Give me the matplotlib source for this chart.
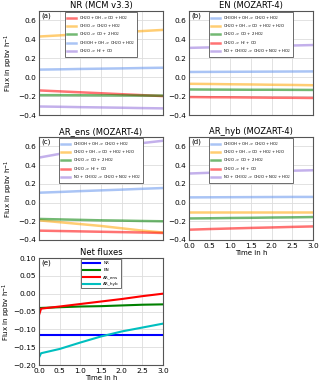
import matplotlib
matplotlib.use('Agg')
import matplotlib.pyplot as plt

t = [0.0, 0.5, 1.0, 1.5, 2.0, 2.5, 3.0]
t_net = [0.0, 0.05, 0.5, 1.0, 1.5, 2.0, 2.5, 3.0]

# (a) NR (MCM v3.3)
nr_labels = ['CH$_2$O + OH -> CO + HO$_2$',
             'CH$_3$O -> CH$_2$O + HO$_2$',
             'CH$_2$O -> CO + 2 HO$_2$',
             'CH$_3$OH + OH -> CH$_2$O + HO$_2$',
             'CH$_2$O -> H$_2$ + CO']
nr_colors = ['red', 'orange', 'green', 'cornflowerblue', 'mediumpurple']
nr_values = [
    [-0.140, -0.150, -0.160, -0.170, -0.180, -0.190, -0.200],
    [0.430, 0.442, 0.455, 0.465, 0.476, 0.488, 0.500],
    [-0.190, -0.190, -0.191, -0.192, -0.193, -0.194, -0.195],
    [0.080, 0.083, 0.087, 0.090, 0.093, 0.097, 0.100],
    [-0.310, -0.313, -0.317, -0.320, -0.323, -0.327, -0.330],
]

# MOZART-4 reactions, shared by (b), (c), (d)
moz_labels = ['CH$_3$OH + OH -> CH$_2$O + HO$_2$',
              'CH$_2$O + OH -> CO + HO$_2$ + H$_2$O',
              'CH$_2$O -> CO + 2 HO$_2$',
              'CH$_2$O -> H$_2$ + CO',
              'NO + CH$_3$O$_2$ -> CH$_2$O + NO$_2$ + HO$_2$']
moz_colors = ['cornflowerblue', 'orange', 'green', 'red', 'mediumpurple']

en_values = [
    [0.055, 0.056, 0.057, 0.058, 0.059, 0.060, 0.061],
    [-0.070, -0.072, -0.075, -0.077, -0.080, -0.082, -0.085],
    [-0.130, -0.131, -0.132, -0.133, -0.133, -0.134, -0.135],
    [-0.210, -0.212, -0.213, -0.215, -0.217, -0.218, -0.220],
    [0.310, 0.315, 0.320, 0.325, 0.330, 0.335, 0.340],
]
ens_values = [
    [0.105, 0.113, 0.122, 0.130, 0.138, 0.147, 0.155],
    [-0.190, -0.210, -0.230, -0.250, -0.275, -0.300, -0.320],
    [-0.175, -0.180, -0.185, -0.190, -0.193, -0.197, -0.200],
    [-0.300, -0.304, -0.308, -0.312, -0.316, -0.320, -0.325],
    [0.480, 0.520, 0.550, 0.580, 0.610, 0.635, 0.660],
]
hyb_values = [
    [0.055, 0.056, 0.057, 0.058, 0.059, 0.060, 0.060],
    [-0.100, -0.100, -0.100, -0.100, -0.100, -0.100, -0.100],
    [-0.170, -0.168, -0.165, -0.163, -0.160, -0.158, -0.155],
    [-0.290, -0.283, -0.277, -0.271, -0.266, -0.260, -0.255],
    [0.310, 0.318, 0.324, 0.330, 0.335, 0.340, 0.345],
]

# (e) net fluxes
net_labels = ['NR', 'EN', 'AR_ens', 'AR_hyb']
net_colors = ['b', 'g', 'r', 'c']
net_values = [
    [-0.115, -0.115, -0.115, -0.115, -0.115, -0.115, -0.115, -0.115],
    [-0.040, -0.040, -0.038, -0.036, -0.035, -0.033, -0.031, -0.030],
    [-0.060, -0.042, -0.036, -0.029, -0.022, -0.015, -0.007, 0.000],
    [-0.179, -0.167, -0.155, -0.137, -0.120, -0.106, -0.095, -0.084],
]

ylab = 'Flux in ppbv h$^{-1}$'
W, H = 320, 384


def style(ax):
    ax.set_xlim(0, 3)
    ax.set_xticks([0, 0.5, 1, 1.5, 2, 2.5, 3])
    ax.grid(True, color='#dddddd', linewidth=0.6)
    ax.set_axisbelow(True)
    for s in ax.spines.values():
        s.set_color('#555555')
        s.set_linewidth(0.8)
    ax.tick_params(length=0, labelsize=5.3, pad=2)


def box(left, top, right, bottom):
    return [left / W, 1 - bottom / H, (right - left) / W, (bottom - top) / H]


def add_legend(ax, fs, hl, ls):
    leg = ax.legend(loc='upper center', fontsize=fs, handlelength=hl, borderpad=0.5,
                    labelspacing=ls, handletextpad=0.8, fancybox=False, framealpha=1,
                    borderaxespad=0.3)
    leg.get_frame().set_edgecolor('#555555')
    leg.get_frame().set_linewidth(0.6)


fig = plt.figure(figsize=(3.2, 3.84), dpi=100)

panels = [
    (box(39, 11, 163, 115), 'NR (MCM v3.3)', '(a)', nr_labels, nr_colors, nr_values, True, False),
    (box(189, 11, 313, 115), 'EN (MOZART-4)', '(b)', moz_labels, moz_colors, en_values, False, False),
    (box(39, 137, 163, 240), 'AR_ens (MOZART-4)', '(c)', moz_labels, moz_colors, ens_values, True, False),
    (box(189, 137, 313, 240), 'AR_hyb (MOZART-4)', '(d)', moz_labels, moz_colors, hyb_values, False, True),
]

for pos, title, tag, labels, colors, values, ylabel_on, xlabel_on in panels:
    ax = fig.add_axes(pos)
    for lab, col, vals in zip(labels, colors, values):
        ax.plot(t, vals, color=col, lw=1.8, alpha=0.55, label=lab)
    style(ax)
    ax.set_ylim(-0.4, 0.7)
    ax.set_yticks([-0.4, -0.2, 0.0, 0.2, 0.4, 0.6])
    ax.set_title(title, fontsize=6, pad=2)
    ax.text(0.02, 0.985, tag, transform=ax.transAxes, fontsize=5, va='top', ha='left')
    if ylabel_on:
        ax.set_ylabel(ylab, fontsize=5, labelpad=2)
    if xlabel_on:
        ax.set_xlabel('Time in h', fontsize=5, labelpad=1)
    else:
        ax.set_xticklabels([])
    add_legend(ax, 2.7, 2.2, 0.2)

ax = fig.add_axes(box(39, 258, 163, 365))
for lab, col, vals in zip(net_labels, net_colors, net_values):
    ax.plot(t_net, vals, color=col, lw=1.5, label=lab)
style(ax)
ax.set_ylim(-0.2, 0.1)
ax.set_yticks([-0.2, -0.15, -0.1, -0.05, 0.0, 0.05, 0.1])
ax.set_title('Net fluxes', fontsize=6, pad=2)
ax.text(0.02, 0.985, '(e)', transform=ax.transAxes, fontsize=5, va='top', ha='left')
ax.set_ylabel(ylab, fontsize=5, labelpad=0.5)
ax.set_xlabel('Time in h', fontsize=5, labelpad=1)
add_legend(ax, 3, 4, 0.7)

fig.savefig('out.png', dpi=100)
